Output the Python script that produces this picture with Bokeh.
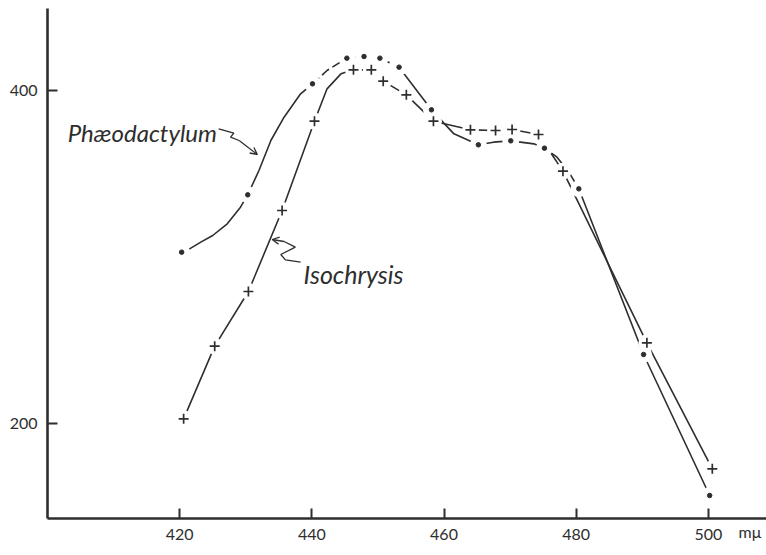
from bokeh.plotting import figure
from bokeh.models import Range1d, FixedTicker, Label, Arrow, OpenHead, LinearAxis
from bokeh.embed import file_html
from bokeh.resources import INLINE

# ---- data (wavelength in mμ, value) ----
phaeo_x = [420.3, 430.3, 440.1, 445.3, 447.9, 450.3, 453.2, 458.1, 465.2, 470.1, 475.2, 480.4, 490.2, 500.2]
phaeo_y = [303.0, 337.4, 404.0, 419.4, 420.4, 419.4, 414.0, 388.4, 367.4, 369.8, 365.4, 341.0, 241.6, 157.0]
# extra points traced along the drawn Phaeodactylum curve between markers
phaeo_trace_x = [421.5, 423.2, 425.0, 427.2, 429.2, 432.0, 433.8, 435.8, 438.3, 442.3, 461.5, 467.5, 473.6, 477.1, 478.9]
phaeo_trace_y = [305.0, 309.0, 313.0, 320.0, 330.0, 352.0, 370.0, 384.0, 398.0, 412.0, 374.0, 369.0, 368.0, 360.0, 351.0]

iso_x = [420.6, 425.3, 430.4, 435.5, 440.4, 446.3, 449.0, 450.8, 454.3, 458.4, 464.0, 467.8, 470.3, 474.3, 478.0, 490.7, 500.6]
iso_y = [203.0, 246.6, 279.4, 328.0, 381.6, 412.4, 412.4, 405.6, 397.4, 381.6, 376.4, 376.0, 376.6, 373.6, 351.6, 248.6, 173.0]
iso_trace_x = [442.3, 444.4]
iso_trace_y = [401.0, 410.0]

x_ticks = [420, 440, 460, 480, 500]
y_ticks = [200, 400]
unit_pos = 506.3
unit_text = "mμ"

# leader (squiggle) annotations, in data units
phaeo_lead_x = [425.9, 428.2, 427.7, 429.0]
phaeo_lead_y = [377.0, 374.4, 372.0, 370.0]
phaeo_tip = (431.75, 361.6)
iso_lead_x = [438.3, 436.0, 435.3, 437.5, 435.8]
iso_lead_y = [297.0, 298.4, 301.6, 306.0, 309.4]
iso_tip = (434.0, 310.6)

INK = "#2e2e2e"


def merged(mx, my, tx, ty):
    pts = sorted(zip(list(mx) + list(tx), list(my) + list(ty)))
    return [p[0] for p in pts], [p[1] for p in pts]


p = figure(width=766, height=555, output_backend="svg", toolbar_location=None,
           x_range=Range1d(400.0, 508.8), y_range=Range1d(143.2, 449.2),
           min_border_left=47, min_border_right=0, min_border_top=8, min_border_bottom=37)
p.outline_line_color = None
p.grid.visible = False
p.background_fill_color = "white"

for ax in (p.xaxis[0], p.yaxis[0]):
    ax.axis_line_color = INK
    ax.axis_line_width = 2.6
    ax.major_tick_line_color = INK
    ax.major_tick_line_width = 2
    ax.major_tick_in = 10
    ax.major_tick_out = 0
    ax.minor_tick_line_color = None
    ax.major_label_text_font = "Lato"
    ax.major_label_text_font_size = "16px"
    ax.major_label_text_color = INK
    ax.major_label_standoff = 10
p.xaxis.ticker = FixedTicker(ticks=x_ticks)
p.yaxis.ticker = FixedTicker(ticks=y_ticks)

# companion axis that only carries the unit text, pulled up level with the tick labels
unit_axis = LinearAxis(ticker=FixedTicker(ticks=[unit_pos]),
                       major_label_overrides={unit_pos: unit_text},
                       axis_line_color=None, major_tick_line_color=None,
                       minor_tick_line_color=None, major_tick_in=0, major_tick_out=0,
                       major_label_text_font="Lato", major_label_text_font_size="16px",
                       major_label_text_color=INK, major_label_standoff=-21)
p.add_layout(unit_axis, "below")

# Phaeodactylum curve: solid, dashed over the crest, solid again
cx, cy = merged(phaeo_x, phaeo_y, phaeo_trace_x, phaeo_trace_y)
seg_a = [(x, y) for x, y in zip(cx, cy) if x <= 440.1]
seg_b = [(x, y) for x, y in zip(cx, cy) if 440.1 <= x <= 453.2]
seg_c = [(x, y) for x, y in zip(cx, cy) if x >= 453.2]
for seg, dash in ((seg_a, "solid"), (seg_b, "9 4"), (seg_c, "solid")):
    p.line([s[0] for s in seg], [s[1] for s in seg], line_color=INK, line_width=1.6, line_dash=dash)

# Isochrysis curve
ix, iy = merged(iso_x, iso_y, iso_trace_x, iso_trace_y)
p.line(ix, iy, line_color=INK, line_width=1.6)

# white halos break the lines around the markers
p.scatter(phaeo_x, phaeo_y, marker="circle", size=17, fill_color="white", line_color=None)
p.scatter(iso_x, iso_y, marker="circle", size=17, fill_color="white", line_color=None)

p.scatter(phaeo_x, phaeo_y, marker="circle", size=4.5, fill_color=INK, line_color=INK)
p.scatter(iso_x, iso_y, marker="cross", size=10, line_color=INK, line_width=1.7)

# labels with squiggly leaders
p.add_layout(Label(x=403.06, y=374.8, text="Phæodactylum", text_font="Lato",
                   text_font_style="italic", text_font_size="24px", text_color=INK,
                   text_baseline="alphabetic", text_align="left"))
p.add_layout(Label(x=438.75, y=290.2, text="Isochrysis", text_font="Lato",
                   text_font_style="italic", text_font_size="25px", text_color=INK,
                   text_baseline="alphabetic", text_align="left"))
p.line(phaeo_lead_x, phaeo_lead_y, line_color=INK, line_width=1.3)
p.line(iso_lead_x, iso_lead_y, line_color=INK, line_width=1.3)
p.add_layout(Arrow(end=OpenHead(size=7, line_color=INK, line_width=1.3),
                   x_start=phaeo_lead_x[-1], y_start=phaeo_lead_y[-1],
                   x_end=phaeo_tip[0], y_end=phaeo_tip[1],
                   line_color=INK, line_width=1.3))
p.add_layout(Arrow(end=OpenHead(size=7, line_color=INK, line_width=1.3),
                   x_start=iso_lead_x[-1], y_start=iso_lead_y[-1],
                   x_end=iso_tip[0], y_end=iso_tip[1],
                   line_color=INK, line_width=1.3))

open("out.html", "w").write(file_html(p, INLINE))
